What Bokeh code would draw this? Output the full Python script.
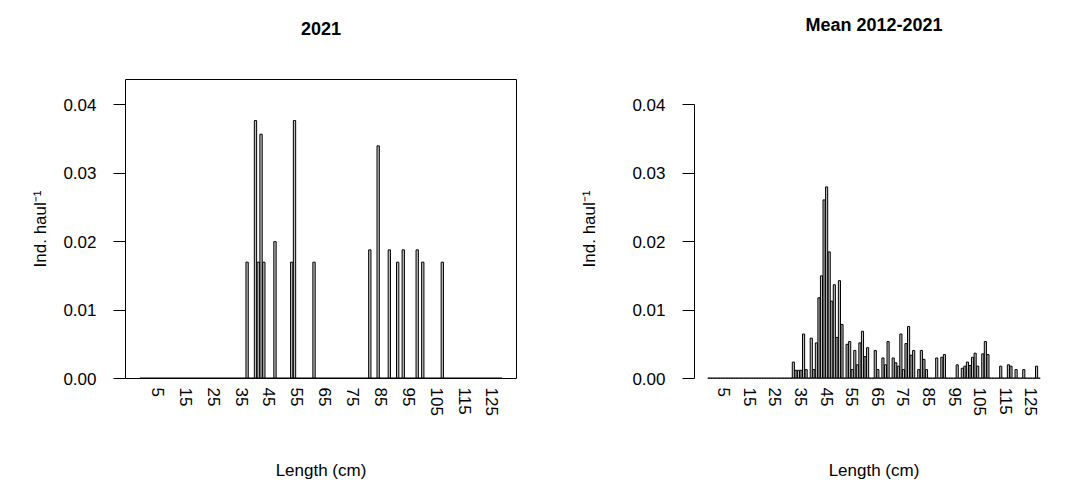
from bokeh.plotting import figure
from bokeh.layouts import row
from bokeh.models import Range1d, FixedTicker, ColumnDataSource, PrintfTickFormatter, LinearAxis
from bokeh.embed import file_html
from bokeh.resources import INLINE

# ---------------- data ----------------
length_classes = list(range(-1, 129))          # 1-cm length classes on the x axis
x_tick_values = [5, 15, 25, 35, 45, 55, 65, 75, 85, 95, 105, 115, 125]
y_tick_values = [0.0, 0.01, 0.02, 0.03, 0.04]

# 2021 (non-zero classes)
len_2021 = [37, 40, 41, 42, 43, 47, 53, 54, 61, 81, 84, 88, 91, 93, 98, 100, 107]
ind_2021 = [0.0170, 0.0377, 0.0170, 0.0357, 0.0170, 0.0200, 0.0170, 0.0377, 0.0170,
            0.0188, 0.0340, 0.0188, 0.0170, 0.0188, 0.0188, 0.0170, 0.0170]

# Mean 2012-2021 (non-zero classes)
len_mean = [32, 33, 34, 35, 36, 37, 39, 40, 41, 42, 43, 44, 45,
            46, 47, 48, 49, 50, 51, 53, 54, 55, 56, 57, 58, 59, 60, 61,
            64, 65, 67, 68, 69, 71, 72, 73, 74, 75, 76, 77, 78, 79, 81, 82, 83, 84,
            88, 90, 91, 96, 98, 99, 100, 101, 102, 103, 104, 106, 107, 108,
            113, 116, 117, 119, 122, 127]
ind_mean = [0.0024, 0.0012, 0.0012, 0.0012, 0.0065, 0.0013, 0.0059, 0.0013, 0.0052, 0.0118,
            0.0150, 0.0261, 0.0280,
            0.0185, 0.0113, 0.0137, 0.0060, 0.0143, 0.0079, 0.0050, 0.0054, 0.0013, 0.0041,
            0.0020, 0.0052, 0.0069, 0.0032, 0.0045,
            0.0041, 0.0013, 0.0030, 0.0020, 0.0054, 0.0030, 0.0023, 0.0018, 0.0065, 0.0013,
            0.0051, 0.0076, 0.0034, 0.0041, 0.0013, 0.0041, 0.0028, 0.0013,
            0.0030, 0.0031, 0.0035, 0.0020, 0.0015, 0.0018, 0.0024, 0.0019, 0.0031, 0.0037,
            0.0018, 0.0036, 0.0054, 0.0035,
            0.0018, 0.0020, 0.0018, 0.0013, 0.0013, 0.0018]

Y_MAX = 0.0437
X_RANGE = (-6.61, 133.61)
FONT = "Liberation Sans"
H = 482


def full_series(lens, vals):
    d = dict(zip(lens, vals))
    return [d.get(L, 0.0) for L in length_classes]


def panel(title, lens, vals, width, b_left, b_right, boxed, ylab_standoff):
    p = figure(width=width, height=H, x_range=Range1d(*X_RANGE), title=None,
               y_range=Range1d(0, Y_MAX), output_backend="svg", toolbar_location=None,
               min_border_left=b_left, min_border_right=b_right,
               min_border_top=79, min_border_bottom=104)
    src = ColumnDataSource(dict(x=length_classes, top=full_series(lens, vals)))
    p.vbar(x="x", top="top", bottom=0, width=0.83, source=src,
           fill_color="#bebebe", line_color="black", line_width=1)
    p.segment(x0=[length_classes[0] - 0.42], x1=[length_classes[-1] + 0.42],
              y0=[0], y1=[0], line_color="black", line_width=2)
    p.xgrid.visible = False
    p.ygrid.visible = False
    p.outline_line_color = "black" if boxed else None
    p.outline_line_width = 1
    p.background_fill_color = "white"
    p.border_fill_color = "white"

    ya = p.left[0]
    ya.ticker = FixedTicker(ticks=y_tick_values)
    ya.formatter = PrintfTickFormatter(format="%.2f")
    ya.bounds = (0, 0.04)
    ya.major_tick_out = 12
    ya.major_tick_in = 0
    ya.minor_tick_line_color = None
    ya.axis_line_color = "black"
    ya.major_tick_line_color = "black"
    ya.major_label_standoff = 17
    ya.major_label_text_font = FONT
    ya.major_label_text_font_size = "17px"
    ya.major_label_text_color = "black"
    ya.axis_label = "Ind. haul\u207b\u00b9"
    ya.axis_label_text_font = FONT
    ya.axis_label_text_font_size = "17px"
    ya.axis_label_text_font_style = "normal"
    ya.axis_label_text_color = "black"
    ya.axis_label_standoff = ylab_standoff

    xa = p.below[0]
    xa.ticker = FixedTicker(ticks=x_tick_values)
    xa.major_label_orientation = "vertical"
    xa.major_tick_out = 0
    xa.major_tick_in = 0
    xa.minor_tick_line_color = None
    xa.axis_line_color = None
    xa.major_label_standoff = 9
    xa.major_label_text_font = FONT
    xa.major_label_text_font_size = "17px"
    xa.major_label_text_color = "black"
    xa.axis_label = "Length (cm)"
    xa.axis_label_text_font = FONT
    xa.axis_label_text_font_size = "17px"
    xa.axis_label_text_font_style = "normal"
    xa.axis_label_text_color = "black"
    xa.axis_label_standoff = 42

    # title drawn as the label of an empty axis above the frame
    tax = LinearAxis(ticker=FixedTicker(ticks=[]), axis_label=title,
                     axis_line_color=None, major_tick_line_color=None,
                     minor_tick_line_color=None, major_label_text_font_size="0px",
                     axis_label_standoff=45, axis_label_text_font=FONT,
                     axis_label_text_font_size="18px", axis_label_text_font_style="bold",
                     axis_label_text_color="black")
    p.add_layout(tax, "above")
    return p


p1 = panel("2021", len_2021, ind_2021, 544, 125, 28, True, 10)
p2 = panel("Mean 2012-2021", len_mean, ind_mean, 513, 150, 4, False, 30)
layout = row(p1, p2)

open("out.html", "w").write(file_html(layout, INLINE))
